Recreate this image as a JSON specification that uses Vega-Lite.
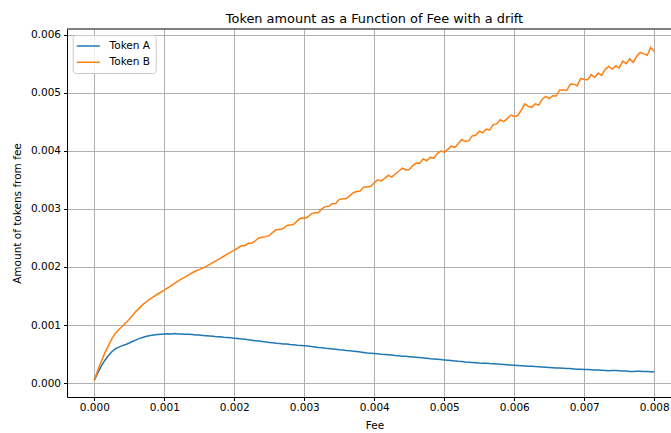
{
  "$schema": "https://vega.github.io/schema/vega-lite/v6.json",
  "autosize": {"type": "none"},
  "padding": {"left": 67, "top": 29, "right": 0, "bottom": 36},
  "width": 604,
  "height": 368,
  "background": "white",
  "config": {
    "view": {"stroke": null},
    "font": "DejaVu Sans"
  },
  "title": {
    "text": "Token amount as a Function of Fee with a drift",
    "font": "DejaVu Sans",
    "fontSize": 12.9,
    "fontWeight": "normal",
    "color": "black",
    "anchor": "middle",
    "baseline": "alphabetic",
    "offset": 5,
    "dx": 5.5,
    "dy": 12.5
  },
  "layer": [
    {
      "data": {
        "values": [
          {"fee": 0, "Token A": 0.05e-3, "Token B": 0.05e-3},
          {"fee": 0.5e-4, "Token A": 0.18e-3, "Token B": 0.22e-3},
          {"fee": 1e-4, "Token A": 0.29e-3, "Token B": 0.37e-3},
          {"fee": 1.5e-4, "Token A": 0.39e-3, "Token B": 0.52e-3},
          {"fee": 2e-4, "Token A": 0.47e-3, "Token B": 0.64e-3},
          {"fee": 2.5e-4, "Token A": 0.54e-3, "Token B": 0.76e-3},
          {"fee": 3e-4, "Token A": 0.59e-3, "Token B": 0.86e-3},
          {"fee": 3.5e-4, "Token A": 0.62e-3, "Token B": 0.92e-3},
          {"fee": 4e-4, "Token A": 0.645e-3, "Token B": 0.98e-3},
          {"fee": 4.5e-4, "Token A": 0.665e-3, "Token B": 1.04e-3},
          {"fee": 5e-4, "Token A": 0.69e-3, "Token B": 1.10e-3},
          {"fee": 5.5e-4, "Token A": 0.72e-3, "Token B": 1.17e-3},
          {"fee": 6e-4, "Token A": 0.745e-3, "Token B": 1.24e-3},
          {"fee": 6.5e-4, "Token A": 0.77e-3, "Token B": 1.30e-3},
          {"fee": 7e-4, "Token A": 0.79e-3, "Token B": 1.36e-3},
          {"fee": 7.5e-4, "Token A": 0.805e-3, "Token B": 1.405e-3},
          {"fee": 8e-4, "Token A": 0.82e-3, "Token B": 1.45e-3},
          {"fee": 8.5e-4, "Token A": 0.828e-3, "Token B": 1.49e-3},
          {"fee": 9e-4, "Token A": 0.835e-3, "Token B": 1.53e-3},
          {"fee": 9.5e-4, "Token A": 0.84e-3, "Token B": 1.565e-3},
          {"fee": 10e-4, "Token A": 0.845e-3, "Token B": 1.60e-3},
          {"fee": 10.5e-4, "Token A": 0.850e-3, "Token B": 1.64e-3},
          {"fee": 11e-4, "Token A": 0.846e-3, "Token B": 1.68e-3},
          {"fee": 11.5e-4, "Token A": 0.853e-3, "Token B": 1.72e-3},
          {"fee": 12e-4, "Token A": 0.845e-3, "Token B": 1.76e-3},
          {"fee": 12.5e-4, "Token A": 0.847e-3, "Token B": 1.795e-3},
          {"fee": 13e-4, "Token A": 0.840e-3, "Token B": 1.83e-3},
          {"fee": 13.5e-4, "Token A": 0.839e-3, "Token B": 1.865e-3},
          {"fee": 14e-4, "Token A": 0.836e-3, "Token B": 1.90e-3},
          {"fee": 14.5e-4, "Token A": 0.828e-3, "Token B": 1.93e-3},
          {"fee": 15e-4, "Token A": 0.827e-3, "Token B": 1.955e-3},
          {"fee": 15.5e-4, "Token A": 0.821e-3, "Token B": 1.985e-3},
          {"fee": 16e-4, "Token A": 0.815e-3, "Token B": 2.01e-3},
          {"fee": 16.5e-4, "Token A": 0.810e-3, "Token B": 2.045e-3},
          {"fee": 17e-4, "Token A": 0.806e-3, "Token B": 2.08e-3},
          {"fee": 17.5e-4, "Token A": 0.796e-3, "Token B": 2.115e-3},
          {"fee": 18e-4, "Token A": 0.798e-3, "Token B": 2.15e-3},
          {"fee": 18.5e-4, "Token A": 0.789e-3, "Token B": 2.185e-3},
          {"fee": 19e-4, "Token A": 0.785e-3, "Token B": 2.22e-3},
          {"fee": 19.5e-4, "Token A": 0.780e-3, "Token B": 2.255e-3},
          {"fee": 20e-4, "Token A": 0.774e-3, "Token B": 2.29e-3},
          {"fee": 20.5e-4, "Token A": 0.767e-3, "Token B": 2.327e-3},
          {"fee": 21e-4, "Token A": 0.760e-3, "Token B": 2.364e-3},
          {"fee": 21.5e-4, "Token A": 0.754e-3, "Token B": 2.366e-3},
          {"fee": 22e-4, "Token A": 0.746e-3, "Token B": 2.408e-3},
          {"fee": 22.5e-4, "Token A": 0.738e-3, "Token B": 2.410e-3},
          {"fee": 23e-4, "Token A": 0.731e-3, "Token B": 2.452e-3},
          {"fee": 23.5e-4, "Token A": 0.723e-3, "Token B": 2.499e-3},
          {"fee": 24e-4, "Token A": 0.716e-3, "Token B": 2.511e-3},
          {"fee": 24.5e-4, "Token A": 0.708e-3, "Token B": 2.523e-3},
          {"fee": 25e-4, "Token A": 0.700e-3, "Token B": 2.540e-3},
          {"fee": 25.5e-4, "Token A": 0.695e-3, "Token B": 2.598e-3},
          {"fee": 26e-4, "Token A": 0.688e-3, "Token B": 2.641e-3},
          {"fee": 26.5e-4, "Token A": 0.683e-3, "Token B": 2.644e-3},
          {"fee": 27e-4, "Token A": 0.675e-3, "Token B": 2.662e-3},
          {"fee": 27.5e-4, "Token A": 0.671e-3, "Token B": 2.715e-3},
          {"fee": 28e-4, "Token A": 0.664e-3, "Token B": 2.723e-3},
          {"fee": 28.5e-4, "Token A": 0.660e-3, "Token B": 2.736e-3},
          {"fee": 29e-4, "Token A": 0.653e-3, "Token B": 2.794e-3},
          {"fee": 29.5e-4, "Token A": 0.649e-3, "Token B": 2.842e-3},
          {"fee": 30e-4, "Token A": 0.643e-3, "Token B": 2.840e-3},
          {"fee": 30.5e-4, "Token A": 0.638e-3, "Token B": 2.860e-3},
          {"fee": 31e-4, "Token A": 0.629e-3, "Token B": 2.915e-3},
          {"fee": 31.5e-4, "Token A": 0.623e-3, "Token B": 2.935e-3},
          {"fee": 32e-4, "Token A": 0.614e-3, "Token B": 2.935e-3},
          {"fee": 32.5e-4, "Token A": 0.608e-3, "Token B": 3.000e-3},
          {"fee": 33e-4, "Token A": 0.600e-3, "Token B": 3.040e-3},
          {"fee": 33.5e-4, "Token A": 0.595e-3, "Token B": 3.045e-3},
          {"fee": 34e-4, "Token A": 0.588e-3, "Token B": 3.090e-3},
          {"fee": 34.5e-4, "Token A": 0.582e-3, "Token B": 3.095e-3},
          {"fee": 35e-4, "Token A": 0.574e-3, "Token B": 3.165e-3},
          {"fee": 35.5e-4, "Token A": 0.568e-3, "Token B": 3.175e-3},
          {"fee": 36e-4, "Token A": 0.560e-3, "Token B": 3.180e-3},
          {"fee": 36.5e-4, "Token A": 0.555e-3, "Token B": 3.225e-3},
          {"fee": 37e-4, "Token A": 0.549e-3, "Token B": 3.280e-3},
          {"fee": 37.5e-4, "Token A": 0.542e-3, "Token B": 3.300e-3},
          {"fee": 38e-4, "Token A": 0.535e-3, "Token B": 3.310e-3},
          {"fee": 38.5e-4, "Token A": 0.528e-3, "Token B": 3.380e-3},
          {"fee": 39e-4, "Token A": 0.520e-3, "Token B": 3.380e-3},
          {"fee": 39.5e-4, "Token A": 0.515e-3, "Token B": 3.390e-3},
          {"fee": 40e-4, "Token A": 0.509e-3, "Token B": 3.450e-3},
          {"fee": 40.5e-4, "Token A": 0.504e-3, "Token B": 3.502e-3},
          {"fee": 41e-4, "Token A": 0.498e-3, "Token B": 3.484e-3},
          {"fee": 41.5e-4, "Token A": 0.494e-3, "Token B": 3.526e-3},
          {"fee": 42e-4, "Token A": 0.488e-3, "Token B": 3.578e-3},
          {"fee": 42.5e-4, "Token A": 0.482e-3, "Token B": 3.550e-3},
          {"fee": 43e-4, "Token A": 0.475e-3, "Token B": 3.602e-3},
          {"fee": 43.5e-4, "Token A": 0.470e-3, "Token B": 3.649e-3},
          {"fee": 44e-4, "Token A": 0.464e-3, "Token B": 3.701e-3},
          {"fee": 44.5e-4, "Token A": 0.460e-3, "Token B": 3.673e-3},
          {"fee": 45e-4, "Token A": 0.454e-3, "Token B": 3.680e-3},
          {"fee": 45.5e-4, "Token A": 0.449e-3, "Token B": 3.748e-3},
          {"fee": 46e-4, "Token A": 0.444e-3, "Token B": 3.791e-3},
          {"fee": 46.5e-4, "Token A": 0.440e-3, "Token B": 3.789e-3},
          {"fee": 47e-4, "Token A": 0.433e-3, "Token B": 3.862e-3},
          {"fee": 47.5e-4, "Token A": 0.427e-3, "Token B": 3.830e-3},
          {"fee": 48e-4, "Token A": 0.420e-3, "Token B": 3.888e-3},
          {"fee": 48.5e-4, "Token A": 0.415e-3, "Token B": 3.876e-3},
          {"fee": 49e-4, "Token A": 0.409e-3, "Token B": 3.954e-3},
          {"fee": 49.5e-4, "Token A": 0.404e-3, "Token B": 3.997e-3},
          {"fee": 50e-4, "Token A": 0.399e-3, "Token B": 3.980e-3},
          {"fee": 50.5e-4, "Token A": 0.394e-3, "Token B": 4.026e-3},
          {"fee": 51e-4, "Token A": 0.389e-3, "Token B": 4.082e-3},
          {"fee": 51.5e-4, "Token A": 0.382e-3, "Token B": 4.058e-3},
          {"fee": 52e-4, "Token A": 0.374e-3, "Token B": 4.124e-3},
          {"fee": 52.5e-4, "Token A": 0.370e-3, "Token B": 4.195e-3},
          {"fee": 53e-4, "Token A": 0.364e-3, "Token B": 4.161e-3},
          {"fee": 53.5e-4, "Token A": 0.360e-3, "Token B": 4.177e-3},
          {"fee": 54e-4, "Token A": 0.354e-3, "Token B": 4.258e-3},
          {"fee": 54.5e-4, "Token A": 0.349e-3, "Token B": 4.269e-3},
          {"fee": 55e-4, "Token A": 0.344e-3, "Token B": 4.340e-3},
          {"fee": 55.5e-4, "Token A": 0.341e-3, "Token B": 4.312e-3},
          {"fee": 56e-4, "Token A": 0.340e-3, "Token B": 4.374e-3},
          {"fee": 56.5e-4, "Token A": 0.336e-3, "Token B": 4.361e-3},
          {"fee": 57e-4, "Token A": 0.334e-3, "Token B": 4.453e-3},
          {"fee": 57.5e-4, "Token A": 0.329e-3, "Token B": 4.465e-3},
          {"fee": 58e-4, "Token A": 0.324e-3, "Token B": 4.537e-3},
          {"fee": 58.5e-4, "Token A": 0.319e-3, "Token B": 4.504e-3},
          {"fee": 59e-4, "Token A": 0.315e-3, "Token B": 4.556e-3},
          {"fee": 59.5e-4, "Token A": 0.312e-3, "Token B": 4.618e-3},
          {"fee": 60e-4, "Token A": 0.309e-3, "Token B": 4.595e-3},
          {"fee": 60.5e-4, "Token A": 0.304e-3, "Token B": 4.610e-3},
          {"fee": 61e-4, "Token A": 0.299e-3, "Token B": 4.700e-3},
          {"fee": 61.5e-4, "Token A": 0.295e-3, "Token B": 4.810e-3},
          {"fee": 62e-4, "Token A": 0.290e-3, "Token B": 4.770e-3},
          {"fee": 62.5e-4, "Token A": 0.288e-3, "Token B": 4.750e-3},
          {"fee": 63e-4, "Token A": 0.284e-3, "Token B": 4.810e-3},
          {"fee": 63.5e-4, "Token A": 0.282e-3, "Token B": 4.790e-3},
          {"fee": 64e-4, "Token A": 0.278e-3, "Token B": 4.890e-3},
          {"fee": 64.5e-4, "Token A": 0.274e-3, "Token B": 4.940e-3},
          {"fee": 65e-4, "Token A": 0.269e-3, "Token B": 4.900e-3},
          {"fee": 65.5e-4, "Token A": 0.265e-3, "Token B": 4.950e-3},
          {"fee": 66e-4, "Token A": 0.261e-3, "Token B": 4.945e-3},
          {"fee": 66.5e-4, "Token A": 0.258e-3, "Token B": 5.050e-3},
          {"fee": 67e-4, "Token A": 0.254e-3, "Token B": 5.050e-3},
          {"fee": 67.5e-4, "Token A": 0.251e-3, "Token B": 5.040e-3},
          {"fee": 68e-4, "Token A": 0.249e-3, "Token B": 5.150e-3},
          {"fee": 68.5e-4, "Token A": 0.244e-3, "Token B": 5.150e-3},
          {"fee": 69e-4, "Token A": 0.240e-3, "Token B": 5.120e-3},
          {"fee": 69.5e-4, "Token A": 0.238e-3, "Token B": 5.250e-3},
          {"fee": 70e-4, "Token A": 0.235e-3, "Token B": 5.230e-3},
          {"fee": 70.5e-4, "Token A": 0.232e-3, "Token B": 5.225e-3},
          {"fee": 71e-4, "Token A": 0.229e-3, "Token B": 5.315e-3},
          {"fee": 71.5e-4, "Token A": 0.227e-3, "Token B": 5.265e-3},
          {"fee": 72e-4, "Token A": 0.224e-3, "Token B": 5.340e-3},
          {"fee": 72.5e-4, "Token A": 0.220e-3, "Token B": 5.300e-3},
          {"fee": 73e-4, "Token A": 0.217e-3, "Token B": 5.405e-3},
          {"fee": 73.5e-4, "Token A": 0.214e-3, "Token B": 5.455e-3},
          {"fee": 74e-4, "Token A": 0.217e-3, "Token B": 5.410e-3},
          {"fee": 74.5e-4, "Token A": 0.218e-3, "Token B": 5.465e-3},
          {"fee": 75e-4, "Token A": 0.214e-3, "Token B": 5.430e-3},
          {"fee": 75.5e-4, "Token A": 0.210e-3, "Token B": 5.546e-3},
          {"fee": 76e-4, "Token A": 0.207e-3, "Token B": 5.502e-3},
          {"fee": 76.5e-4, "Token A": 0.201e-3, "Token B": 5.588e-3},
          {"fee": 77e-4, "Token A": 0.200e-3, "Token B": 5.524e-3},
          {"fee": 77.5e-4, "Token A": 0.203e-3, "Token B": 5.630e-3},
          {"fee": 78e-4, "Token A": 0.204e-3, "Token B": 5.696e-3},
          {"fee": 78.5e-4, "Token A": 0.199e-3, "Token B": 5.672e-3},
          {"fee": 79e-4, "Token A": 0.198e-3, "Token B": 5.648e-3},
          {"fee": 79.5e-4, "Token A": 0.197e-3, "Token B": 5.784e-3},
          {"fee": 80e-4, "Token A": 0.197e-3, "Token B": 5.710e-3}
        ]
      },
      "transform": [{"fold": ["Token A", "Token B"], "as": ["token", "amount"]}],
      "mark": {"type": "line", "strokeWidth": 1.5, "clip": true},
      "encoding": {
        "x": {
          "field": "fee",
          "type": "quantitative",
          "scale": {"domain": [-0.00039, 0.00824], "nice": false, "zero": false},
          "axis": {
            "title": "Fee",
            "values": [0, 0.001, 0.002, 0.003, 0.004, 0.005, 0.006, 0.007, 0.008],
            "format": ".3f",
            "grid": true,
            "gridColor": "#b0b0b0",
            "gridWidth": 1,
            "domain": true,
            "domainColor": "black",
            "domainWidth": 1,
            "ticks": true,
            "tickColor": "black",
            "tickSize": 3.5,
            "tickWidth": 1,
            "labelFont": "DejaVu Sans",
            "labelFontSize": 10.5,
            "labelColor": "black",
            "labelPadding": 2,
            "labelFlush": false,
            "labelOverlap": false,
            "titleFont": "DejaVu Sans",
            "titleFontSize": 10.5,
            "titleFontWeight": "normal",
            "titleColor": "black",
            "titlePadding": 7,
            "titleX": 307.5
          }
        },
        "y": {
          "field": "amount",
          "type": "quantitative",
          "scale": {"domain": [-0.00024, 0.0061], "nice": false, "zero": false},
          "axis": {
            "title": "Amount of tokens from fee",
            "values": [0, 0.001, 0.002, 0.003, 0.004, 0.005, 0.006],
            "format": ".3f",
            "grid": true,
            "gridColor": "#b0b0b0",
            "gridWidth": 1,
            "domain": true,
            "domainColor": "black",
            "domainWidth": 1,
            "ticks": true,
            "tickColor": "black",
            "tickSize": 3.5,
            "tickWidth": 1,
            "labelFont": "DejaVu Sans",
            "labelFontSize": 10.5,
            "labelColor": "black",
            "labelPadding": 3,
            "labelFlush": false,
            "labelOverlap": false,
            "titleFont": "DejaVu Sans",
            "titleFontSize": 10.5,
            "titleFontWeight": "normal",
            "titleColor": "black",
            "titlePadding": 8
          }
        },
        "color": {
          "field": "token",
          "type": "nominal",
          "scale": {"domain": ["Token A", "Token B"], "range": ["#1f77b4", "#ff7f0e"]},
          "legend": {
            "title": null,
            "orient": "none",
            "legendX": 5.7,
            "legendY": 6,
            "symbolType": "M-2.2,0H2.2",
            "symbolSize": 110,
            "symbolStrokeWidth": 1.5,
            "symbolOffset": 4.6,
            "padding": 5,
            "labelOffset": 15.3,
            "rowPadding": 4.25,
            "labelFont": "DejaVu Sans",
            "labelFontSize": 10.5,
            "labelColor": "black",
            "fillColor": "rgba(255,255,255,0.8)",
            "strokeColor": "#cccccc",
            "cornerRadius": 3
          }
        }
      }
    },
    {
      "data": {"values": [{}]},
      "mark": {"type": "rule", "color": "black", "strokeWidth": 1},
      "encoding": {"y": {"datum": 0.0061}}
    }
  ]
}
